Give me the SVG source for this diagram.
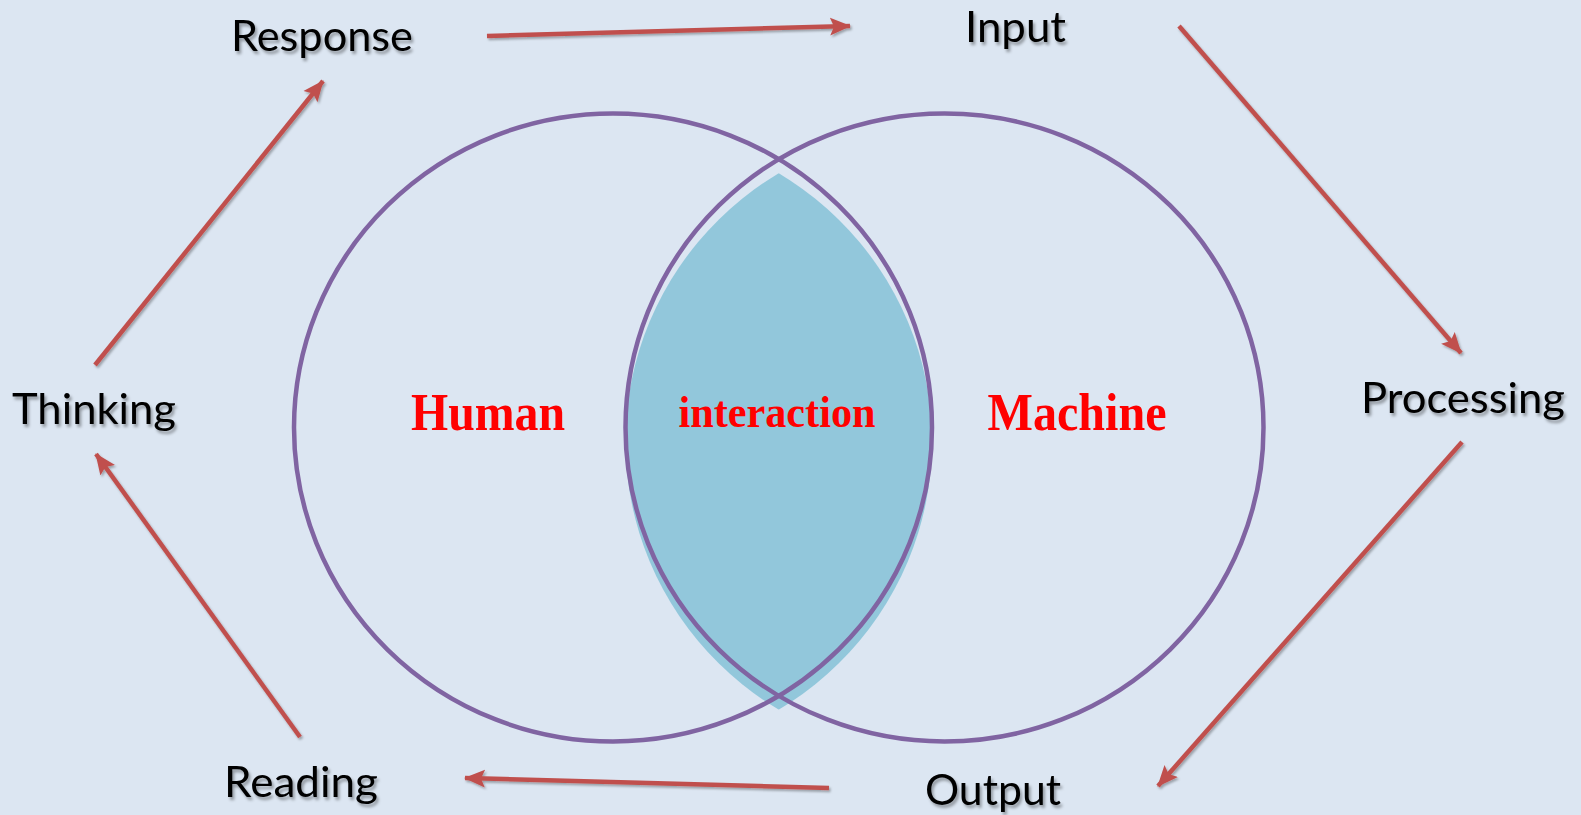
<svg xmlns="http://www.w3.org/2000/svg" width="1581" height="815" viewBox="0 0 1581 815">
  <style>
    .lbl { font-family: Lato, "Open Sans", sans-serif; font-size: 43px; fill: #000; filter: url(#tsh); }
    .red { font-family: "Liberation Serif", "Times New Roman", serif; font-weight: bold; fill: #FF0000; }
    .circ { fill: none; stroke: #8064A2; stroke-width: 4.5; }
    .arr { fill: none; stroke: #C0504D; stroke-width: 4.5; marker-end: url(#ah); }
  </style>
  <defs>
    <filter id="tsh" x="-10%" y="-30%" width="130%" height="170%">
      <feDropShadow dx="2" dy="3" stdDeviation="1.6" flood-color="#000" flood-opacity="0.35"/>
    </filter>
    <filter id="ash" filterUnits="userSpaceOnUse" x="0" y="0" width="1581" height="815">
      <feDropShadow dx="1.5" dy="2" stdDeviation="1.2" flood-color="#000" flood-opacity="0.3"/>
    </filter>
    <marker id="ah" markerUnits="userSpaceOnUse" markerWidth="24" markerHeight="24" viewBox="0 0 24 24" refX="20" refY="12" orient="auto">
      <path d="M0,3 L21,12 L0,21 L4,12 Z" fill="#C0504D"/>
    </marker>
    <clipPath id="lensclip">
      <ellipse cx="613" cy="427.5" rx="319" ry="314"/>
    </clipPath>
  </defs>
  <rect width="1581" height="815" fill="#DCE6F2"/>

  <g id="lens" transform="translate(0,14)">
    <ellipse cx="944.5" cy="427.5" rx="319" ry="314" fill="#92C7DB" clip-path="url(#lensclip)"/>
  </g>

  <g id="human-circle">
    <ellipse class="circ" cx="613" cy="427.5" rx="319" ry="314"/>
    <text class="red" x="488" y="430" font-size="52" text-anchor="middle" textLength="154" lengthAdjust="spacingAndGlyphs">Human</text>
  </g>
  <g id="machine-circle">
    <ellipse class="circ" cx="944.5" cy="427.5" rx="319" ry="314"/>
    <text class="red" x="1077" y="430" font-size="52" text-anchor="middle" textLength="179" lengthAdjust="spacingAndGlyphs">Machine</text>
  </g>
  <g id="interaction">
    <text class="red" x="777" y="427" font-size="45" text-anchor="middle" textLength="197" lengthAdjust="spacingAndGlyphs">interaction</text>
  </g>

  <g id="response"><text class="lbl" x="231" y="51" textLength="182" lengthAdjust="spacingAndGlyphs">Response</text></g>
  <g id="input"><text class="lbl" x="965" y="42" textLength="101" lengthAdjust="spacingAndGlyphs">Input</text></g>
  <g id="processing"><text class="lbl" x="1361" y="413" textLength="204" lengthAdjust="spacingAndGlyphs">Processing</text></g>
  <g id="output"><text class="lbl" x="925" y="805" textLength="136" lengthAdjust="spacingAndGlyphs">Output</text></g>
  <g id="reading"><text class="lbl" x="224" y="797" textLength="154" lengthAdjust="spacingAndGlyphs">Reading</text></g>
  <g id="thinking"><text class="lbl" x="12" y="424" textLength="164" lengthAdjust="spacingAndGlyphs">Thinking</text></g>

  <g id="connectors" filter="url(#ash)">
    <line class="arr" x1="487" y1="36" x2="850" y2="26"/>
    <line class="arr" x1="1179" y1="26" x2="1461" y2="353"/>
    <line class="arr" x1="1462" y1="442" x2="1158" y2="786"/>
    <line class="arr" x1="829" y1="788" x2="465" y2="778"/>
    <line class="arr" x1="300" y1="737" x2="96" y2="454"/>
    <line class="arr" x1="95" y1="365" x2="323" y2="81"/>
  </g>
</svg>
